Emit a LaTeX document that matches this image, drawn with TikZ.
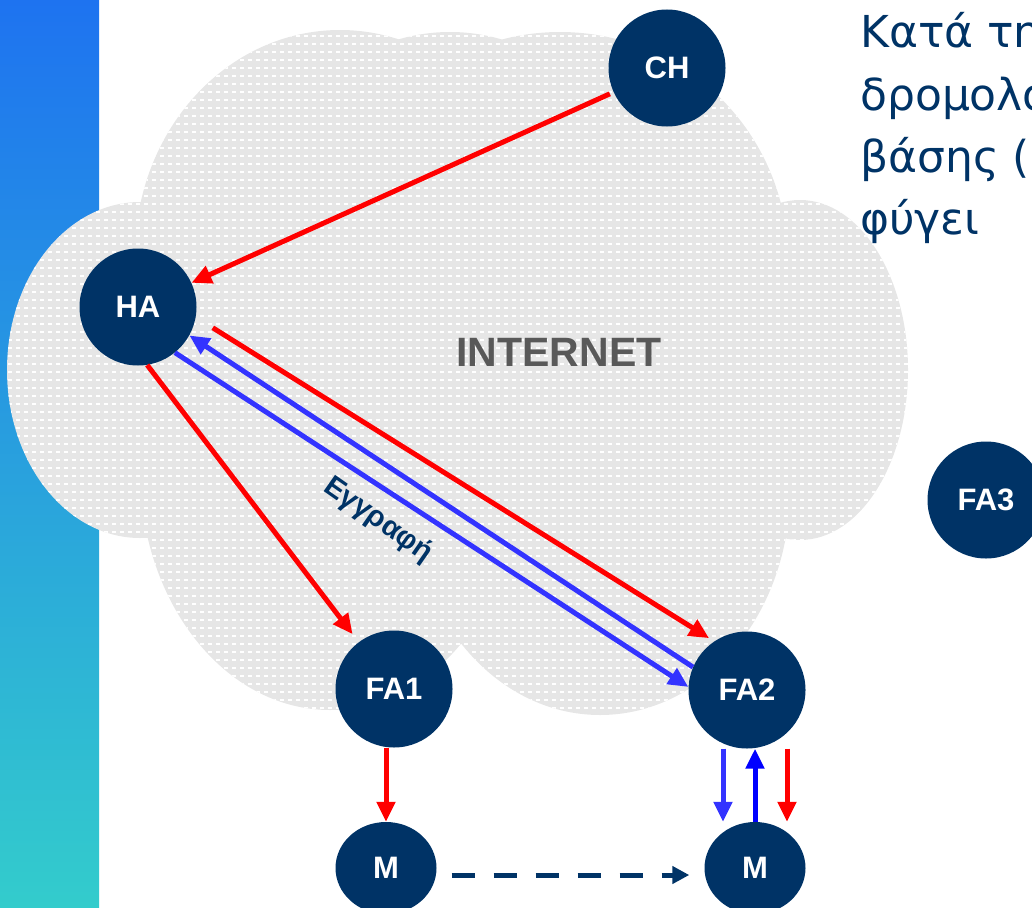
\documentclass[tikz,border=0pt]{standalone}
\usepackage{fontspec}
\setmainfont{Liberation Sans}
\newfontfamily\notefont{DejaVu Sans}
\usetikzlibrary{arrows.meta,shapes.geometric}
\definecolor{navy}{RGB}{0,51,102}
\definecolor{redarr}{RGB}{255,0,0}
\definecolor{bluearr}{RGB}{51,51,255}
\definecolor{bluedeep}{RGB}{0,0,255}
\definecolor{cloudgray}{RGB}{230,230,230}
\definecolor{netgray}{RGB}{89,89,89}
\definecolor{bartop}{RGB}{30,115,240}
\definecolor{barmid}{RGB}{45,180,216}
\definecolor{barbot}{RGB}{51,204,204}
\begin{document}
\begin{tikzpicture}[x=1pt,y=-1pt,
  site/.style={circle,fill=navy,text=white,minimum size=117pt,inner sep=0pt,font=\fontsize{31}{35}\selectfont\bfseries},
  mobile/.style={ellipse,fill=navy,text=white,minimum width=101pt,minimum height=92pt,inner sep=0pt,font=\fontsize{31}{35}\selectfont\bfseries},
  tip/.style={-{Triangle[length=20pt,width=18pt]}},
  redline/.style={tip,draw=redarr,line width=5pt},
  blueline/.style={tip,draw=bluearr,line width=5pt},
  blueup/.style={tip,draw=bluedeep,line width=5pt},
  moveline/.style={draw=navy,line width=5pt,dash pattern=on 23pt off 19pt,-{Triangle[length=17pt,width=17pt]}},
  noteline/.style={anchor=base west,text=navy,inner sep=0pt,font=\notefont\fontsize{44}{50}\selectfont}]
\useasboundingbox (0,0) rectangle (1032,907);
\shade[top color=bartop,middle color=barmid,bottom color=barbot] (0,0) rectangle (99,907);
\begin{scope}
\clip (140,370) ellipse [x radius=133,y radius=168]
  (340,255) ellipse [x radius=205,y radius=225]
  (450,190) ellipse [x radius=170,y radius=158]
  (560,260) circle [radius=228]
  (800,370) ellipse [x radius=108,y radius=170]
  (330,470) ellipse [x radius=190,y radius=240]
  (600,490) ellipse [x radius=190,y radius=225]
  (450,380) ellipse [x radius=300,y radius=250];
\fill[cloudgray] (0,0) rectangle (1032,907);
\foreach \r in {36,44,...,740}
  \draw[white,line width=1.6pt,dash pattern=on 4pt off 4pt] (0,\r) -- (1032,\r);
\end{scope}
\begin{scope}
\clip (0,0) rectangle (1032,907);
\node[noteline] (note1) at (860,48) {Κατά τη};
\node[noteline] (note2) at (860,110) {δρομολο};
\node[noteline] (note3) at (860,172) {βάσης (};
\node[noteline] (note4) at (860,234) {φύγει};
\node[site] (fa3) at (986,500) {FA3};
\end{scope}
\node[text=netgray,font=\fontsize{41}{46}\selectfont\bfseries] (net) at (559,352) {INTERNET};
\node[rotate=-35,text=navy,font=\fontsize{29}{33}\selectfont\bfseries] (reg) at (378,520) {Εγγραφή};
\node[site] (ch) at (667,68) {CH};
\node[site] (ha) at (138,307) {HA};
\node[site] (fa1) at (394,689) {FA1};
\node[site] (fa2) at (747,690) {FA2};
\node[mobile] (m1) at (386,868) {M};
\node[mobile] (m2) at (755,868) {M};
\coordinate (t1) at (fa1.south -| m1.north);
\coordinate (t2) at (fa2.south -| m2.north);
\draw[redline,shorten <=4pt] (ch) -- (ha);
\draw[redline,shorten <=20pt,shorten >=6pt] (ha.-10) -- (fa2.124);
\draw[redline,shorten >=10pt] (ha.-81) -- (fa1.127);
\draw[blueline] (fa2.157) -- (ha.-29);
\draw[blueline] (ha.-51) -- (fa2.177);
\draw[redline] (t1) -- (m1.north);
\draw[blueline] ([xshift=-32pt]t2) -- ([xshift=-32pt]m2.north);
\draw[blueup] (m2.north) -- (t2);
\draw[redline] ([xshift=32pt]t2) -- ([xshift=32pt]m2.north);
\draw[moveline,shorten <=15pt,shorten >=15pt] ([yshift=-7pt]m1.east) -- ([yshift=-7pt]m2.west);
\end{tikzpicture}
\end{document}
